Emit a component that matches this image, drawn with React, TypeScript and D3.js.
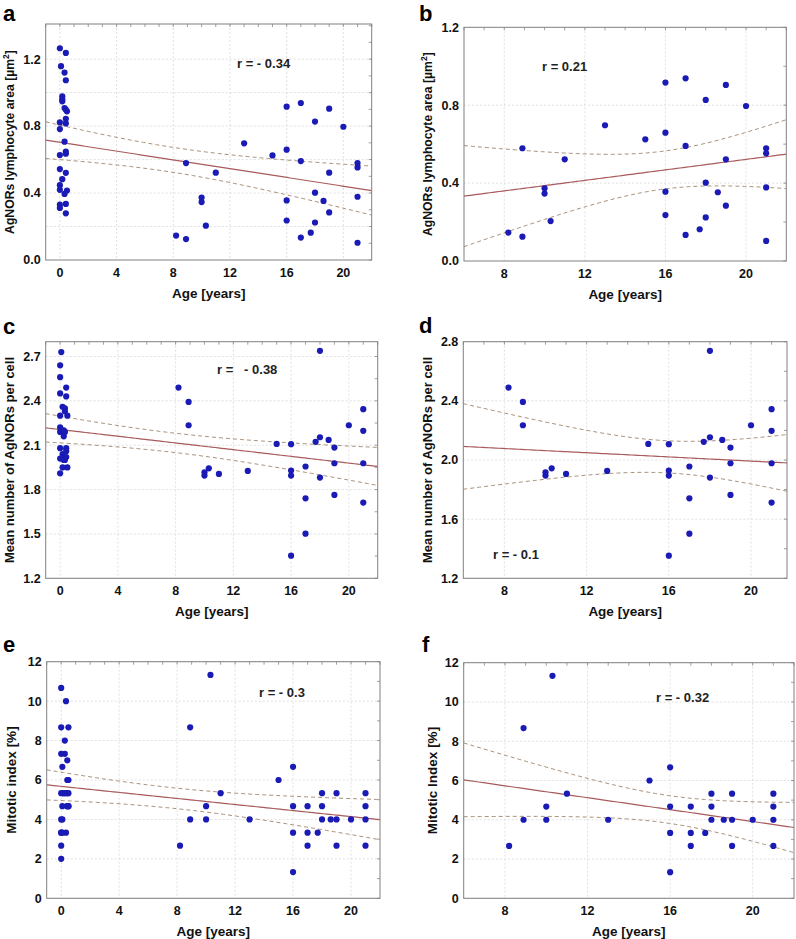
import React from "react";
import * as d3 from "d3";

// ---- Data ----
const olderAge = [8.2, 8.9, 8.9, 10, 10, 10.3, 11, 13, 15, 16, 16, 16, 16, 17, 17, 17, 17.7, 18, 18, 18, 18.6, 19, 19, 19, 20, 21, 21, 21, 21];
const olderArea = [0.146, 0.579, 0.125, 0.373, 0.346, 0.205, 0.522, 0.697, 0.625, 0.916, 0.659, 0.356, 0.236, 0.938, 0.591, 0.134, 0.163, 0.827, 0.402, 0.224, 0.353, 0.904, 0.522, 0.284, 0.796, 0.579, 0.553, 0.378, 0.103];
const olderNor = [2.49, 2.393, 2.235, 1.895, 1.917, 1.944, 1.906, 1.926, 2.109, 2.107, 1.929, 1.895, 1.353, 1.956, 1.741, 1.502, 2.123, 2.154, 2.738, 1.881, 2.136, 2.084, 1.978, 1.764, 2.235, 2.344, 2.197, 1.978, 1.712];
const olderMitotic = [2.67, 8.67, 4.0, 4.67, 4.0, 11.33, 5.33, 4.0, 6.0, 6.67, 4.67, 3.33, 1.33, 4.67, 3.33, 2.67, 3.33, 5.33, 4.67, 4.0, 4.0, 5.33, 4.0, 2.67, 4.0, 5.33, 4.67, 4.0, 2.67];

const youngAgeArea = [0, 0.42, 0.08, 0.33, 0.42, 0.17, 0.17, 0.17, 0.33, 0.42, 0.5, 0, 0.42, 0.42, 0, 0.33, 0.42, 0.42, 0, 0, 0.42, 0.17, 0, 0, 0.5, 0.33, 0, 0.42, 0, 0.42];
const youngArea = [1.265, 1.237, 1.158, 1.12, 1.074, 0.978, 0.96, 0.948, 0.908, 0.898, 0.888, 0.822, 0.844, 0.816, 0.782, 0.707, 0.647, 0.635, 0.627, 0.543, 0.521, 0.483, 0.447, 0.419, 0.415, 0.395, 0.331, 0.335, 0.311, 0.279];

const youngAgeNor = [0.08, 0, 0, 0, 0.42, 0.42, 0.17, 0.33, 0.33, 0.5, 0, 0, 0, 0.08, 0.25, 0.33, 0.25, 0, 0.42, 0.42, 0.17, 0, 0.25, 0.42, 0.08, 0.33, 0.5, 0.17, 0, 0.25];
const youngNor = [2.73, 2.64, 2.56, 2.45, 2.49, 2.43, 2.36, 2.35, 2.33, 2.3, 2.3, 2.22, 2.19, 2.2, 2.2, 2.19, 2.16, 2.08, 2.08, 2.06, 2.04, 2.01, 2.02, 2.02, 2.01, 2.0, 1.95, 1.95, 1.91, 2.0];

const youngAgeMitotic = [0, 0.33, 0, 0.5, 0.25, 0, 0.25, 0.42, 0.08, 0.42, 0.5, 0, 0.17, 0.33, 0.5, 0.08, 0.42, 0.5, 0, 0.08, 0, 0.08, 0.33, 0, 0, 0.42, 0.42, 0.5, 0, 0.17];
const youngMitotic = [10.67, 10, 8.67, 8.67, 8, 7.33, 7.33, 7, 6.67, 6, 6, 5.33, 5.33, 5.33, 5.33, 4.67, 4.67, 4.67, 4, 4, 3.33, 3.33, 3.33, 2.67, 2, 5.33, 4.67, 4.67, 3.33, 5.33];

const ticksAreaA = [0, 0.4, 0.8, 1.2];
const ticksAreaB = [0, 0.4, 0.8, 1.2];
const ticksNorC = [1.2, 1.5, 1.8, 2.1, 2.4, 2.7];
const ticksNorD = [1.2, 1.6, 2.0, 2.4, 2.8];
const ticksMit = [0, 2, 4, 6, 8, 10, 12];
const ticksAgeAll = [0, 4, 8, 12, 16, 20];
const ticksAgeOld = [8, 12, 16, 20];

const allAgeArea = youngAgeArea.concat(olderAge);
const allArea = youngArea.concat(olderArea);
const allAgeNor = youngAgeNor.concat(olderAge);
const allNor = youngNor.concat(olderNor);
const allAgeMit = youngAgeMitotic.concat(olderAge);
const allMit = youngMitotic.concat(olderMitotic);

// ---- Statistics ----
function t975(df: number) {
  const z = 1.959964;
  const z3 = z ** 3, z5 = z ** 5, z7 = z ** 7;
  return z + (z3 + z) / (4 * df) + (5 * z5 + 16 * z3 + 3 * z) / (96 * df * df) + (3 * z7 + 19 * z5 + 17 * z3 - 15 * z) / (384 * df ** 3);
}

function fit(xs: number[], ys: number[]) {
  const n = xs.length;
  const mx = d3.mean(xs)!;
  const my = d3.mean(ys)!;
  let sxx = 0, sxy = 0;
  for (let i = 0; i < n; i++) {
    sxx += (xs[i] - mx) ** 2;
    sxy += (xs[i] - mx) * (ys[i] - my);
  }
  const b = sxy / sxx;
  const a = my - b * mx;
  let sse = 0;
  for (let i = 0; i < n; i++) sse += (ys[i] - (a + b * xs[i])) ** 2;
  const s = Math.sqrt(sse / (n - 2));
  const t = t975(n - 2);
  const half = (x: number) => t * s * Math.sqrt(1 / n + (x - mx) ** 2 / sxx);
  return { a, b, half };
}

const FONT = "'Liberation Sans', Arial, Helvetica, sans-serif";
const DOT = "#1a1ab4";
const LINE = "#a85a5c";
const CI = "#a8907a";
const GRID = "#dcdcdc";
const FRAME = "#808080";

type PanelProps = {
  box: { l: number; r: number; t: number; b: number };
  xDomain: [number, number];
  yDomain: [number, number];
  xTicks: number[];
  yTicks: number[];
  yGrid: number[];
  yFmt: (v: number) => string;
  xs: number[];
  ys: number[];
  yTitle: React.ReactNode;
  titleSize: number;
  titleX: number;
  rText: string;
  rX: number;
  rY: number;
  letter: string;
  letterX: number;
  letterY: number;
  rightTickStep: number;
};

function Panel(p: PanelProps) {
  const { box } = p;
  const x = d3.scaleLinear().domain(p.xDomain).range([box.l, box.r]);
  const y = d3.scaleLinear().domain(p.yDomain).range([box.b, box.t]);
  const f = fit(p.xs, p.ys);
  const samples = d3.range(0, 101).map((i) => p.xDomain[0] + (i / 100) * (p.xDomain[1] - p.xDomain[0]));
  const mid = d3.line<number>().x((v) => x(v)).y((v) => y(f.a + f.b * v))(samples)!;
  const up = d3.line<number>().x((v) => x(v)).y((v) => y(f.a + f.b * v + f.half(v)))(samples)!;
  const lo = d3.line<number>().x((v) => x(v)).y((v) => y(f.a + f.b * v - f.half(v)))(samples)!;
  const clipId = "clip-" + p.letter;
  const minorX = d3.range(Math.ceil(p.xDomain[0]), Math.floor(p.xDomain[1]) + 1);
  const minorY: number[] = [];
  for (let v = p.yDomain[0]; v <= p.yDomain[1] + 1e-9; v += p.rightTickStep) minorY.push(v);
  const cy = (box.t + box.b) / 2;
  return (
    <g>
      <defs>
        <clipPath id={clipId}>
          <rect x={box.l} y={box.t} width={box.r - box.l} height={box.b - box.t} />
        </clipPath>
      </defs>
      <rect x={box.l} y={box.t} width={box.r - box.l} height={box.b - box.t} fill="#fff" />
      {p.xTicks.map((v) => (
        <line key={"gx" + v} x1={x(v)} x2={x(v)} y1={box.t} y2={box.b} stroke={GRID} strokeWidth={0.9} strokeDasharray="2,2" />
      ))}
      {p.yGrid.map((v) => (
        <line key={"gy" + v} x1={box.l} x2={box.r} y1={y(v)} y2={y(v)} stroke={GRID} strokeWidth={0.9} strokeDasharray="2,2" />
      ))}
      {minorX.map((v) => (
        <line key={"tx" + v} x1={x(v)} x2={x(v)} y1={box.t} y2={box.t + 3} stroke="#777" strokeWidth={0.7} />
      ))}
      {minorY.map((v, i) => (
        <line key={"ty" + i} x1={box.r - 3} x2={box.r} y1={y(v)} y2={y(v)} stroke="#777" strokeWidth={0.7} />
      ))}
      <g clipPath={`url(#${clipId})`}>
        <path d={up} fill="none" stroke={CI} strokeWidth={1} strokeDasharray="4,3" />
        <path d={lo} fill="none" stroke={CI} strokeWidth={1} strokeDasharray="4,3" />
        <path d={mid} fill="none" stroke={LINE} strokeWidth={1.2} />
      </g>
      {p.xs.map((v, i) => (
        <circle key={"pt" + i} cx={x(v)} cy={y(p.ys[i])} r={3.1} fill={DOT} />
      ))}
      <rect x={box.l} y={box.t} width={box.r - box.l} height={box.b - box.t} fill="none" stroke={FRAME} strokeWidth={1} />
      {p.xTicks.map((v) => (
        <text key={"lx" + v} x={x(v)} y={box.b + 17} textAnchor="middle" fontSize={12.5} fontWeight="bold" fontFamily={FONT} fill="#111">
          {v}
        </text>
      ))}
      {p.yTicks.map((v) => (
        <text key={"ly" + v} x={box.l - 5} y={y(v)} dy="0.35em" textAnchor="end" fontSize={12.5} fontWeight="bold" fontFamily={FONT} fill="#111">
          {p.yFmt(v)}
        </text>
      ))}
      <text x={(box.l + box.r) / 2} y={box.b + 38} textAnchor="middle" fontSize={13.5} fontWeight="bold" fontFamily={FONT} fill="#111">
        Age [years]
      </text>
      <text transform={`translate(${p.titleX},${cy}) rotate(-90)`} dy="0.35em" textAnchor="middle" fontSize={p.titleSize} fontWeight="bold" fontFamily={FONT} fill="#111">
        {p.yTitle}
      </text>
      <text x={p.rX} y={p.rY} fontSize={13} fontWeight="bold" fontFamily={FONT} fill="#222" style={{ whiteSpace: "pre" }}>
        {p.rText}
      </text>
      <text x={p.letterX} y={p.letterY} fontSize={22} fontWeight="bold" fontFamily={FONT} fill="#000">
        {p.letter}
      </text>
    </g>
  );
}

const areaTitle = (
  <>
    AgNORs lymphocyte area [µm<tspan dy={-5} fontSize={8.5}>2</tspan>
    <tspan dy={5}>]</tspan>
  </>
);
const norTitle = "Mean number of AgNORs per cell";

export default function App() {
  const f1 = (v: number) => v.toFixed(1);
  const f0 = (v: number) => String(v);
  return (
    <svg width={796} height={939} style={{ position: "absolute", left: 0, top: 0, background: "#fff" }}>
      <Panel box={{ l: 45.7, r: 371.7, t: 24, b: 260 }} xDomain={[-1, 22]} yDomain={[0, 1.41]} xTicks={ticksAgeAll} yTicks={ticksAreaA} yGrid={[0.2, 0.4, 0.6, 0.8, 1.0, 1.2]} yFmt={f1} xs={allAgeArea} ys={allArea} yTitle={areaTitle} titleSize={12.2} titleX={10} rText="r = - 0.34" rX={237} rY={67.5} letter="a" letterX={3} letterY={20.5} rightTickStep={0.1} />
      <Panel box={{ l: 464, r: 786.3, t: 27.3, b: 261 }} xDomain={[6, 22]} yDomain={[0, 1.2]} xTicks={ticksAgeOld} yTicks={ticksAreaB} yGrid={[0.4, 0.8]} yFmt={f1} xs={olderAge} ys={olderArea} yTitle={areaTitle} titleSize={12.2} titleX={428} rText="r = 0.21" rX={542} rY={70.5} letter="b" letterX={419} letterY={20.5} rightTickStep={0.2} />
      <Panel box={{ l: 45.7, r: 377.7, t: 341.7, b: 578.3 }} xDomain={[-1, 22]} yDomain={[1.2, 2.8]} xTicks={ticksAgeAll} yTicks={ticksNorC} yGrid={ticksNorC} yFmt={f1} xs={allAgeNor} ys={allNor} yTitle={norTitle} titleSize={13} titleX={9.5} rText="r =   - 0.38" rX={217} rY={373.5} letter="c" letterX={3} letterY={334} rightTickStep={0.15} />
      <Panel box={{ l: 463.3, r: 787, t: 341.7, b: 578.3 }} xDomain={[6, 21.75]} yDomain={[1.2, 2.8]} xTicks={ticksAgeOld} yTicks={ticksNorD} yGrid={ticksNorD} yFmt={f1} xs={olderAge} ys={olderNor} yTitle={norTitle} titleSize={13} titleX={427} rText="r = - 0.1" rX={493} rY={558.5} letter="d" letterX={419} letterY={333} rightTickStep={0.2} />
      <Panel box={{ l: 46.7, r: 380, t: 661.7, b: 898.3 }} xDomain={[-1, 22]} yDomain={[0, 12]} xTicks={ticksAgeAll} yTicks={ticksMit} yGrid={ticksMit} yFmt={f0} xs={allAgeMit} ys={allMit} yTitle="Mitotic index [%]" titleSize={13.5} titleX={11.7} rText="r = - 0.3" rX={259} rY={696.5} letter="e" letterX={3} letterY={652} rightTickStep={1} />
      <Panel box={{ l: 463.7, r: 794, t: 662.7, b: 898.3 }} xDomain={[6, 22]} yDomain={[0, 12]} xTicks={ticksAgeOld} yTicks={ticksMit} yGrid={ticksMit} yFmt={f0} xs={olderAge} ys={olderMitotic} yTitle="Mitotic Index [%]" titleSize={13.5} titleX={432} rText="r = - 0.32" rX={656} rY={701.5} letter="f" letterX={422} letterY={652} rightTickStep={1} />
    </svg>
  );
}
